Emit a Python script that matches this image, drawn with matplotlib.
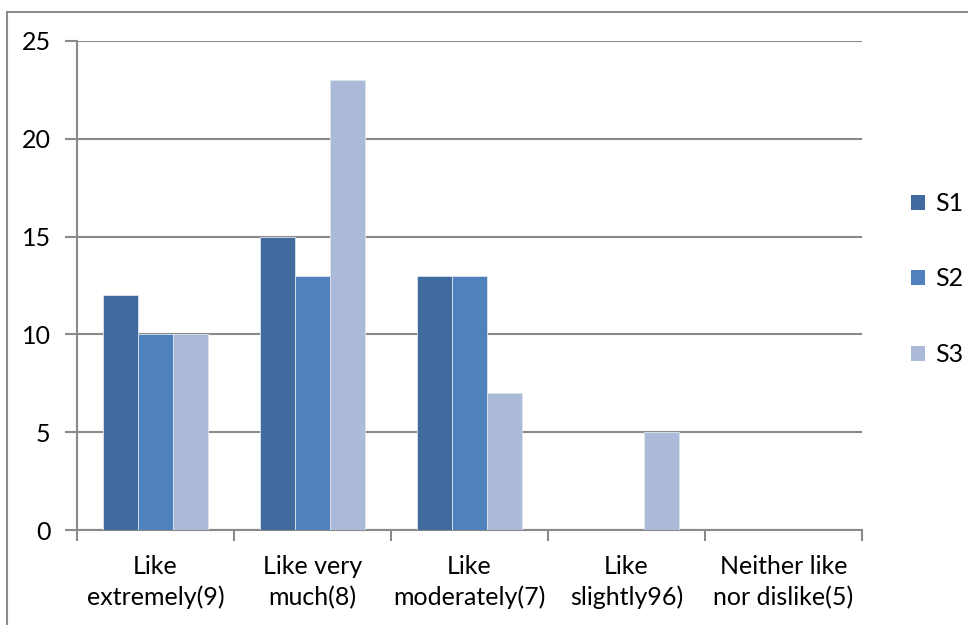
import matplotlib
matplotlib.use("Agg")
import matplotlib.pyplot as plt
from matplotlib.patches import Rectangle
import numpy as np

categories = ["Like\nextremely(9)", "Like very\nmuch(8)", "Like\nmoderately(7)",
              "Like\nslightly96)", "Neither like\nnor dislike(5)"]
series_names = ["S1", "S2", "S3"]
s1 = [12, 15, 13, 0, 0]
s2 = [10, 13, 13, 0, 0]
s3 = [10, 23, 7, 5, 0]
colors = ["#416A9E", "#4F81BD", "#AABAD8"]

plt.rcParams['font.family'] = ['Lato', 'DejaVu Sans']
fs = 18

fig = plt.figure(figsize=(9.68, 6.25), dpi=100)
W, H = 968, 625
ax = fig.add_axes([77 / W, 1 - 530 / H, (862 - 77) / W, (530 - 41) / H])

# outer chart border (cropped on right/bottom)
fig.patches.append(Rectangle((7 / W, -0.1), 1.2, 1 - 12 / H + 0.1, transform=fig.transFigure,
                             fill=False, edgecolor="#8c8c8c", linewidth=1.5))

x = np.arange(len(categories))
w = 1 / 4.5
for i, (vals, c) in enumerate(zip([s1, s2, s3], colors)):
    ax.bar(x + (i - 1) * w, vals, width=w, color=c, edgecolor="#dde4ef",
           linewidth=0.6, zorder=3, label=series_names[i])

ax.set_xlim(-0.5, len(categories) - 0.5)
ax.set_ylim(0, 25)
ax.set_yticks(range(0, 26, 5))
ax.yaxis.grid(True, color="#8a8a8a", linewidth=1.5, zorder=0)
ax.set_axisbelow(True)

for side in ["top", "right"]:
    ax.spines[side].set_visible(False)
for side in ["left", "bottom"]:
    ax.spines[side].set_color("#8a8a8a")
    ax.spines[side].set_linewidth(1.5)

ax.set_xticks(np.arange(-0.5, len(categories), 1))
ax.set_xticklabels([])
ax.set_xticks(x, minor=True)
ax.set_xticklabels(categories, minor=True, fontsize=fs, linespacing=1.4)
ax.tick_params(axis="x", which="minor", length=0, pad=18)
ax.tick_params(axis="x", which="major", length=8, width=1.5, color="#8a8a8a")
ax.tick_params(axis="y", length=9, width=1.5, color="#8a8a8a", labelsize=fs, pad=10)

handles = [Rectangle((0, 0), 1, 1, facecolor=c) for c in colors]
fig.legend(handles, series_names, loc="upper left", bbox_to_anchor=(911 / W, 1 - 192 / H),
           frameon=False, fontsize=fs, handlelength=0.55, handleheight=0.55,
           handletextpad=0.4, labelspacing=2.1, borderpad=0, borderaxespad=0)

fig.savefig("out.png", dpi=100)
